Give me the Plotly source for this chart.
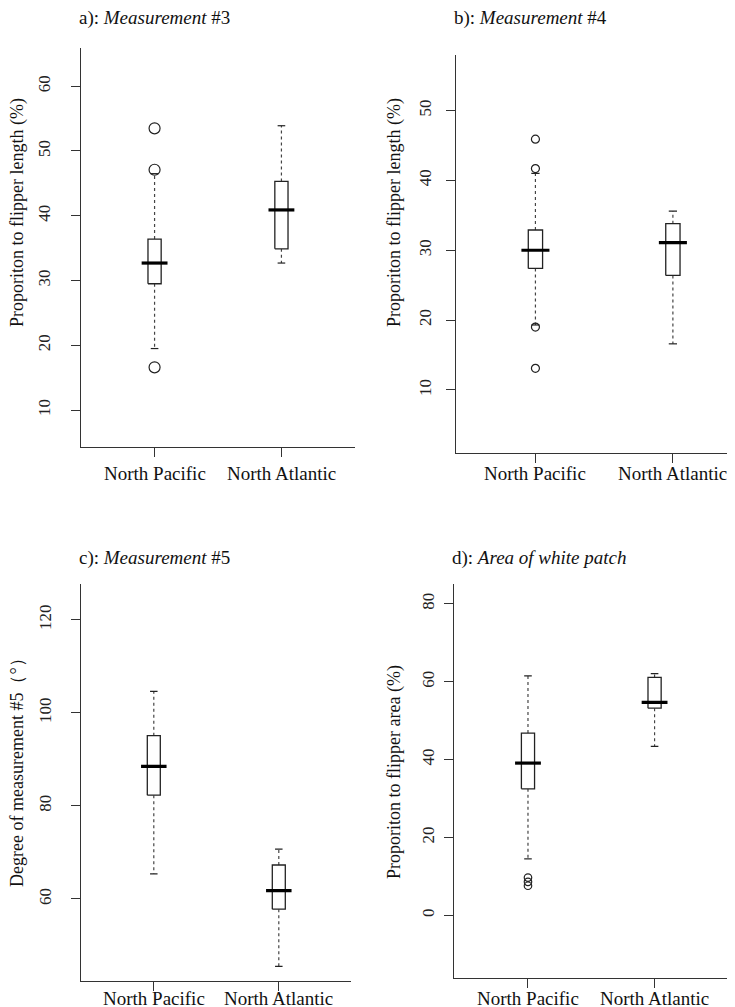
import plotly.graph_objects as go

# ---------------- data ----------------
categories = ["North Pacific", "North Atlantic"]
positions = [1, 2]

panel_titles = [
    "a): <i>Measurement</i> #3",
    "b): <i>Measurement</i> #4",
    "c): <i>Measurement</i> #5",
    "d): <i>Area of white patch</i>",
]
y_titles = [
    "Proporiton to flipper length (%)",
    "Proporiton to flipper length (%)",
    "Degree of measurement #5（°）",
    "Proporiton to flipper area (%)",
]

# panel a: Measurement #3
a_lower = [19.5, 32.7]
a_q1 = [29.5, 34.9]
a_median = [32.7, 40.9]
a_q3 = [36.4, 45.3]
a_upper = [46.5, 53.9]
a_out_np = [53.5, 47.1, 16.6]
a_out_na = []
a_ticks = [10, 20, 30, 40, 50, 60]

# panel b: Measurement #4
b_lower = [19.3, 16.6]
b_q1 = [27.4, 26.4]
b_median = [30.0, 31.1]
b_q3 = [32.9, 33.8]
b_upper = [41.0, 35.6]
b_out_np = [45.9, 41.7, 19.0, 13.1]
b_out_na = []
b_ticks = [10, 20, 30, 40, 50]

# panel c: Measurement #5
c_lower = [65.4, 45.5]
c_q1 = [82.3, 57.8]
c_median = [88.5, 61.8]
c_q3 = [95.1, 67.3]
c_upper = [104.6, 70.7]
c_out_np = []
c_out_na = []
c_ticks = [60, 80, 100, 120]

# panel d: Area of white patch
d_lower = [14.5, 43.4]
d_q1 = [32.5, 53.2]
d_median = [39.1, 54.7]
d_q3 = [46.8, 61.1]
d_upper = [61.5, 62.1]
d_out_np = [9.7, 8.6, 7.6]
d_out_na = []
d_ticks = [0, 20, 40, 60, 80]

panels = [
    dict(lower=a_lower, q1=a_q1, med=a_median, q3=a_q3, upper=a_upper, out=[a_out_np, a_out_na], ticks=a_ticks),
    dict(lower=b_lower, q1=b_q1, med=b_median, q3=b_q3, upper=b_upper, out=[b_out_np, b_out_na], ticks=b_ticks),
    dict(lower=c_lower, q1=c_q1, med=c_median, q3=c_q3, upper=c_upper, out=[c_out_np, c_out_na], ticks=c_ticks),
    dict(lower=d_lower, q1=d_q1, med=d_median, q3=d_q3, upper=d_upper, out=[d_out_np, d_out_na], ticks=d_ticks),
]

# ---------------- layout geometry (pixels) ----------------
W, H = 735, 1007
# (x_left, x_right, y_top, y_bottom) of each plot region in pixels
regions = [
    (73.0, 347.0, 40.0, 439.0),
    (447.7, 735.0, 46.7, 445.0),
    (73.3, 343.3, 576.0, 973.3),
    (446.3, 720.0, 576.0, 970.0),
]
x_ranges = [[0.42, 2.58], [0.42, 2.51], [0.42, 2.58], [0.418, 2.58]]
y_ranges = [[4.3, 65.9], [0.97, 58.0], [42.3, 127.7], [-16.1, 85.1]]
title_y = [10, 10, 550, 550]
ytitle_pos = [(9, 205), (386, 205), (9, 760), (386, 764)]
xlabel_y = [465, 465, 990, 990]
tick_standoff = [14, 8, 13, 3]
outlier_size = [11, 8, 8, 7.5]

BOX_HW = 0.052
MED_HW = 0.102
STAPLE_HW = 0.03
LINE_COL = "#222222"
DASH_COL = "#444444"
FONT = "Liberation Serif, Times New Roman, serif"

fig = go.Figure()

for i, p in enumerate(panels):
    xa = "x" if i == 0 else f"x{i+1}"
    ya = "y" if i == 0 else f"y{i+1}"
    bx, by = [], []
    mx, my = [], []
    wx, wy = [], []
    sx, sy = [], []
    for j, pos in enumerate(positions):
        q1, q3, med = p["q1"][j], p["q3"][j], p["med"][j]
        lo, hi = p["lower"][j], p["upper"][j]
        bx += [pos - BOX_HW, pos + BOX_HW, pos + BOX_HW, pos - BOX_HW, pos - BOX_HW, None]
        by += [q1, q1, q3, q3, q1, None]
        mx += [pos - MED_HW, pos + MED_HW, None]
        my += [med, med, None]
        wx += [pos, pos, None, pos, pos, None]
        wy += [q3, hi, None, q1, lo, None]
        sx += [pos - STAPLE_HW, pos + STAPLE_HW, None, pos - STAPLE_HW, pos + STAPLE_HW, None]
        sy += [hi, hi, None, lo, lo, None]
    fig.add_trace(go.Scatter(x=wx, y=wy, mode="lines", xaxis=xa, yaxis=ya,
                             line=dict(color=DASH_COL, width=1.2, dash="3px,3px"), hoverinfo="skip"))
    fig.add_trace(go.Scatter(x=sx, y=sy, mode="lines", xaxis=xa, yaxis=ya,
                             line=dict(color=LINE_COL, width=1.2), hoverinfo="skip"))
    fig.add_trace(go.Scatter(x=bx, y=by, mode="lines", xaxis=xa, yaxis=ya, fill="toself",
                             fillcolor="white", line=dict(color=LINE_COL, width=1.3), hoverinfo="skip"))
    fig.add_trace(go.Scatter(x=mx, y=my, mode="lines", xaxis=xa, yaxis=ya,
                             line=dict(color="#000000", width=3.2), hoverinfo="skip"))
    ox, oy = [], []
    for j, pos in enumerate(positions):
        ox += [pos] * len(p["out"][j])
        oy += p["out"][j]
    if ox:
        fig.add_trace(go.Scatter(x=ox, y=oy, mode="markers", xaxis=xa, yaxis=ya,
                                 marker=dict(symbol="circle-open", size=outlier_size[i], color=LINE_COL,
                                             line=dict(width=1.2, color=LINE_COL)),
                                 hoverinfo="skip"))

layout = dict(
    width=W, height=H, autosize=False,
    margin=dict(l=0, r=0, t=0, b=0),
    paper_bgcolor="white", plot_bgcolor="white",
    showlegend=False,
    font=dict(family=FONT, color="#111111"),
)
annotations = []
for i, p in enumerate(panels):
    xl, xr, yt, yb = regions[i]
    xkey = "xaxis" if i == 0 else f"xaxis{i+1}"
    ykey = "yaxis" if i == 0 else f"yaxis{i+1}"
    xref = "x" if i == 0 else f"x{i+1}"
    yref = "y" if i == 0 else f"y{i+1}"
    layout[xkey] = dict(
        domain=[xl / W, xr / W], range=x_ranges[i], anchor=yref,
        showline=True, linecolor="#333333", linewidth=1.3, mirror=False,
        ticks="outside", ticklen=9, tickwidth=1.2, tickcolor="#333333",
        tickvals=positions, showticklabels=False,
        showgrid=False, zeroline=False,
    )
    layout[ykey] = dict(
        domain=[1 - yb / H, 1 - yt / H], range=y_ranges[i], anchor=xref,
        showline=True, linecolor="#333333", linewidth=1.3, mirror=False,
        ticks="outside", ticklen=9, tickwidth=1.2, tickcolor="#333333",
        tickvals=p["ticks"], tickangle=-90,
        tickfont=dict(size=17, family=FONT, color="#222222"),
        ticklabelstandoff=tick_standoff[i],
        showgrid=False, zeroline=False,
    )
    # panel title
    annotations.append(dict(
        text=panel_titles[i], xref="paper", yref="paper",
        x=(xl - 4) / W, y=1 - title_y[i] / H, xanchor="left", yanchor="middle",
        showarrow=False, font=dict(size=19, family=FONT, color="#111111"),
    ))
    # y-axis title
    tx, ty = ytitle_pos[i]
    annotations.append(dict(
        text=y_titles[i], xref="paper", yref="paper",
        x=tx / W, y=1 - ty / H, xanchor="center", yanchor="middle",
        textangle=-90, showarrow=False, font=dict(size=18, family=FONT, color="#111111"),
    ))
    # category labels
    for j, pos in enumerate(positions):
        annotations.append(dict(
            text=categories[j], xref=xref, yref="paper",
            x=pos, y=1 - xlabel_y[i] / H, xanchor="center", yanchor="middle",
            showarrow=False, font=dict(size=19, family=FONT, color="#111111"),
        ))
layout["annotations"] = annotations

fig.update_layout(**layout)
fig.write_html("out.html")
